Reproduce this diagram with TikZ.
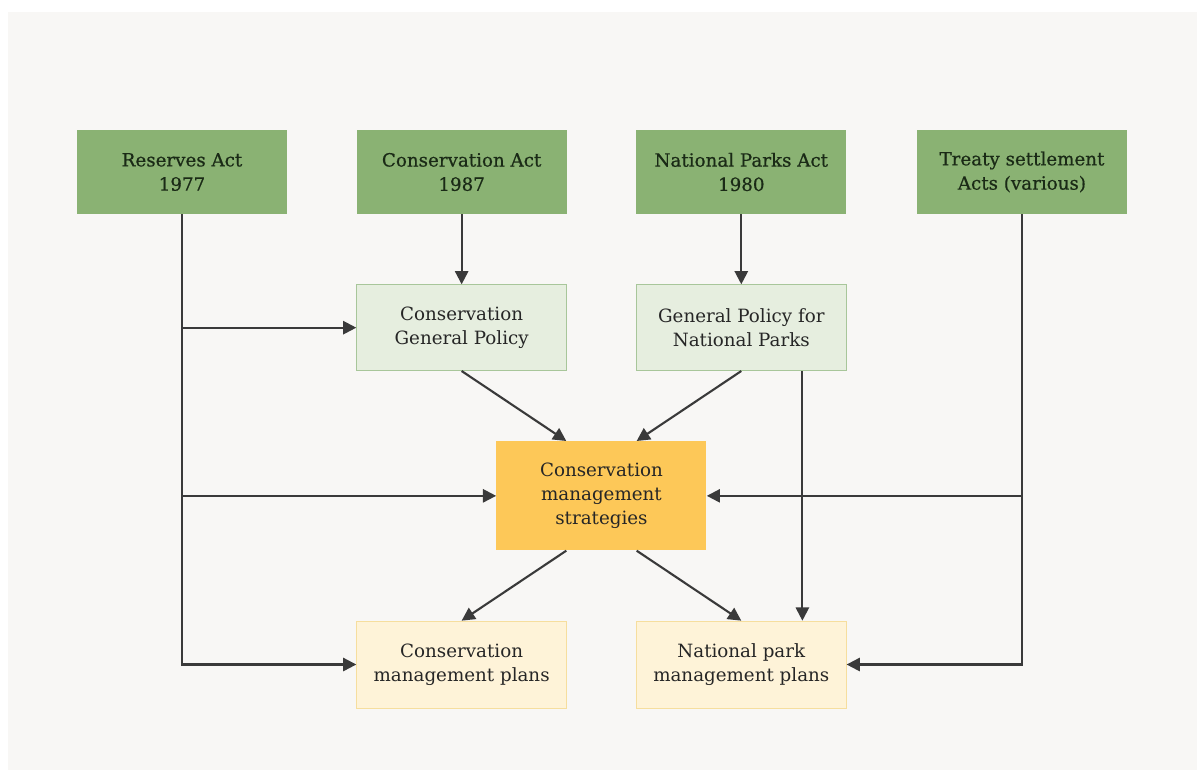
\documentclass[tikz,border=0pt]{standalone}
\usepackage{fontspec}
\setmainfont{DejaVu Serif}
\newfontfamily\actfont[FakeBold=0.6]{DejaVu Serif}
\usetikzlibrary{positioning, calc, arrows.meta}

\definecolor{panelbg}{HTML}{F8F7F5}
\definecolor{actgreen}{HTML}{8AB273}
\definecolor{acttext}{HTML}{1A2A16}
\definecolor{policyfill}{HTML}{E6EEDF}
\definecolor{policyline}{HTML}{A8C69A}
\definecolor{strategyfill}{HTML}{FDC858}
\definecolor{planfill}{HTML}{FEF3D8}
\definecolor{planline}{HTML}{F6DE9E}
\definecolor{linkgrey}{HTML}{3A3A3A}

\begin{document}
\begin{tikzpicture}[x=0.02cm, y=-0.02cm,
    every node/.style={inner sep=0cm, node distance=1.4cm and 1.38cm, align=center,
        font=\fontsize{10.4}{13.8}\selectfont},
    act/.style={rectangle, fill=actgreen, text=acttext, minimum width=4.2cm, minimum height=1.68cm,
        font=\actfont\fontsize{10.4}{13.8}\selectfont},
    policy/.style={rectangle, draw=policyline, fill=policyfill, text=black!85, minimum width=4.2cm, minimum height=1.72cm},
    strategy/.style={rectangle, fill=strategyfill, text=black!85, minimum width=4.2cm, minimum height=2.18cm},
    plan/.style={rectangle, draw=planline, fill=planfill, text=black!85, minimum width=4.2cm, minimum height=1.74cm},
    link/.style={draw=linkgrey, line width=1.2pt},
    arrow/.style={link, -{Triangle[length=7.5pt, width=7.5pt]}}]

    \useasboundingbox (0,0) rectangle (1197,774);
    \fill[panelbg] (8,12) rectangle (1197,770);

    % acts
    \node (reserves) [act] at (182,172) {Reserves Act \\ 1977};
    \node (consact) [act, right=of reserves] {Conservation Act \\ 1987};
    \node (npact) [act, right=of consact] {National Parks Act \\ 1980};
    \node (treaty) [act, right=1.4cm of npact] {Treaty settlement \\ Acts (various)};

    % general policies
    \node (cgp) [policy, below=of consact] {Conservation \\ General Policy};
    \node (gpnp) [policy, below=of npact] {General Policy for \\ National Parks};

    % strategies
    \coordinate (midpolicy) at ($(cgp.south)!0.5!(gpnp.south)$);
    \node (cms) [strategy, below=of midpolicy] {Conservation \\ management \\ strategies};

    % plans
    \coordinate (cmptop) at (cgp |- cms.south);
    \coordinate (npmptop) at (gpnp |- cms.south);
    \node (cmp) [plan, below=of cmptop] {Conservation \\ management plans};
    \node (npmp) [plan, below=of npmptop] {National park \\ management plans};

    % points on the strategy and policy edges
    \coordinate (cmsleft) at ($(cms.north west)!0.333!(cms.north east)$);
    \coordinate (cmsright) at ($(cms.north west)!0.667!(cms.north east)$);
    \coordinate (cmsbotleft) at ($(cms.south west)!0.333!(cms.south east)$);
    \coordinate (cmsbotright) at ($(cms.south west)!0.667!(cms.south east)$);
    \coordinate (gpnpright) at ($(gpnp.south west)!0.79!(gpnp.south east)$);

    \path[arrow] (consact.south) -- (cgp.north);
    \path[arrow] (npact.south) -- (gpnp.north);

    \path[arrow] (reserves.south) |- (cmp.west);
    \path[arrow] (reserves.south |- cgp.west) -- (cgp.west);
    \path[arrow] (reserves.south |- cms.west) -- (cms.west);

    \path[arrow] (treaty.south) |- (npmp.east);
    \path[arrow] (treaty.south |- cms.east) -- (cms.east);

    \path[arrow] (cgp.south) -- (cmsleft);
    \path[arrow] (gpnp.south) -- (cmsright);
    \path[arrow] (gpnpright) -- (gpnpright |- npmp.north);

    \path[arrow] (cmsbotleft) -- (cmp.north);
    \path[arrow] (cmsbotright) -- (npmp.north);
\end{tikzpicture}
\end{document}
